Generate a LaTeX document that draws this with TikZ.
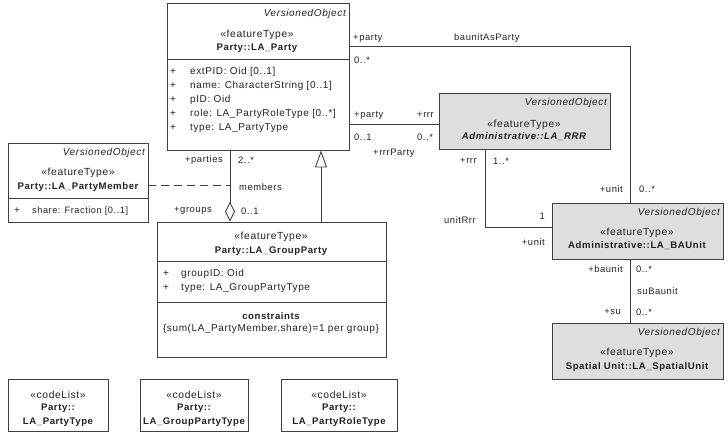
\documentclass[tikz,border=0pt]{standalone}
\usepackage{fontspec}
\setmainfont{Liberation Sans}[LetterSpace=6]
\usetikzlibrary{arrows.meta}
\definecolor{linec}{HTML}{404040}
\definecolor{boxgray}{HTML}{DEDEDE}
\definecolor{txtc}{HTML}{222222}
\tikzset{
  umlbox/.style={draw=linec, line width=0.9pt, rectangle, inner sep=0pt},
  gbox/.style={umlbox, fill=boxgray},
  sepline/.style={draw=linec, line width=0.9pt},
  conn/.style={draw=linec, line width=0.9pt},
  txt/.style={inner sep=0pt, text=txtc, font=\fontsize{10}{12}\selectfont},
  vo/.style={txt, anchor=east, font=\fontsize{10}{12}\selectfont\itshape},
  stereo/.style={txt, font=\fontsize{10.3}{12}\selectfont},
  cname/.style={txt, font=\fontsize{9.6}{12}\selectfont\bfseries},
  attr/.style={txt, anchor=west},
  lbl/.style={txt, font=\fontsize{9.4}{12}\selectfont},
  lw/.style={lbl, anchor=west},
  le/.style={lbl, anchor=east}
}
\begin{document}
\begin{tikzpicture}[x=1pt,y=-1pt]
\useasboundingbox (0,0) rectangle (728,436);

% ---------- boxes ----------
\node[umlbox, minimum width=182pt, minimum height=147pt] (party) at (258,76.5) {};
\node[umlbox, minimum width=140pt, minimum height=79pt] (member) at (78,182.5) {};
\node[umlbox, minimum width=229pt, minimum height=135pt] (grp) at (271.5,289.5) {};
\node[gbox, minimum width=171pt, minimum height=56pt] (rrr) at (524.5,121) {};
\node[gbox, minimum width=171pt, minimum height=56pt] (baunit) at (637.5,231) {};
\node[gbox, minimum width=171pt, minimum height=56pt] (spatial) at (637.5,351) {};
\node[umlbox, minimum width=100pt, minimum height=52pt] (cl1) at (58,405) {};
\node[umlbox, minimum width=108pt, minimum height=52pt] (cl2) at (194,405) {};
\node[umlbox, minimum width=116pt, minimum height=52pt] (cl3) at (339,405) {};

% separators
\draw[sepline] (party.north west) ++(0,57) -- ++(182,0);
\draw[sepline] (member.north west) ++(0,56) -- ++(140,0);
\draw[sepline] (grp.north west) ++(0,40) -- ++(229,0);
\draw[sepline] (grp.north west) ++(0,81) -- ++(229,0);

% ---------- LA_Party ----------
\node[vo] (pvo) at (346,14) {VersionedObject};
\node[stereo] (pst) at (257,35) {«featureType»};
\node[cname] (pnm) at (257,48) {Party::LA\_Party};
\node[attr] (pp1) at (170,72) {+};
\node[attr] (pa1) at (190,72) {extPID: Oid [0..1]};
\node[attr] (pp2) at (170,86) {+};
\node[attr] (pa2) at (190,86) {name: CharacterString [0..1]};
\node[attr] (pp3) at (170,100) {+};
\node[attr] (pa3) at (190,100) {pID: Oid};
\node[attr] (pp4) at (170,114) {+};
\node[attr] (pa4) at (190,114) {role: LA\_PartyRoleType [0..*]};
\node[attr] (pp5) at (170,128) {+};
\node[attr] (pa5) at (190,128) {type: LA\_PartyType};

% ---------- LA_PartyMember ----------
\node[vo] (mvo) at (145,153) {VersionedObject};
\node[stereo] (mst) at (78,173) {«featureType»};
\node[cname] (mnm) at (78,187) {Party::LA\_PartyMember};
\node[attr] (mp1) at (14,211) {+};
\node[attr, font=\fontsize{9.2}{12}\selectfont] (ma1) at (32,211) {share: Fraction [0..1]};

% ---------- LA_GroupParty ----------
\node[stereo] (gst) at (271,237) {«featureType»};
\node[cname] (gnm) at (271,251) {Party::LA\_GroupParty};
\node[attr] (gp1) at (163,274) {+};
\node[attr] (ga1) at (181,274) {groupID: Oid};
\node[attr] (gp2) at (163,288) {+};
\node[attr] (ga2) at (181,288) {type: LA\_GroupPartyType};
\node[cname] (gcn) at (271,316) {constraints};
\node[txt] (gcs) at (271,329) {\{sum(LA\_PartyMember.share)=1 per group\}};

% ---------- LA_RRR ----------
\node[vo] (rvo) at (607,103) {VersionedObject};
\node[stereo] (rst) at (524,125) {«featureType»};
\node[cname, font=\fontsize{9.6}{12}\selectfont\bfseries\itshape] (rnm) at (524,137) {Administrative::LA\_RRR};

% ---------- LA_BAUnit ----------
\node[vo] (bvo) at (720,213) {VersionedObject};
\node[stereo] (bst) at (637,233) {«featureType»};
\node[cname] (bnm) at (637,246) {Administrative::LA\_BAUnit};

% ---------- LA_SpatialUnit ----------
\node[vo] (svo) at (720,333) {VersionedObject};
\node[stereo] (sst) at (637,353) {«featureType»};
\node[cname] (snm) at (637,367) {Spatial Unit::LA\_SpatialUnit};

% ---------- code lists ----------
\node[stereo] (c1s) at (58,395) {«codeList»};
\node[cname] (c1a) at (58,408) {Party::};
\node[cname] (c1b) at (58,422) {LA\_PartyType};
\node[stereo] (c2s) at (194,395) {«codeList»};
\node[cname] (c2a) at (194,408) {Party::};
\node[cname] (c2b) at (194,422) {LA\_GroupPartyType};
\node[stereo] (c3s) at (339,395) {«codeList»};
\node[cname] (c3a) at (339,408) {Party::};
\node[cname] (c3b) at (339,422) {LA\_PartyRoleType};

% ---------- connectors ----------
\coordinate (k1) at (630,46);
\coordinate (k2) at (400,124);
\coordinate (k3) at (485,227);
\coordinate (k4) at (230,185);
\coordinate (k5) at (321,200);

\draw[conn] (party.east |- k1) -- (k1) -- (k1 |- baunit.north);
\draw[conn] (party.east |- k2) -- (rrr.west |- k2);
\draw[conn] (rrr.south -| k3) -- (k3) -- (baunit.west |- k3);
\draw[conn] (baunit.south -| k1) -- (spatial.north -| k1);
\draw[conn, -{Diamond[open, length=20pt, width=10pt, line width=0.9pt]}] (party.south -| k4) -- (grp.north -| k4);
\draw[conn, -{Triangle[open, length=17pt, width=12pt, line width=0.9pt]}] (grp.north -| k5) -- (party.south -| k5);
\draw[conn, dash pattern=on 8pt off 5pt] (member.east |- k4) -- (k4);

% ---------- labels ----------
\node[lw] (l1) at (353,38) {+party};
\node[lw] (l2) at (454,38) {baunitAsParty};
\node[lw] (l3) at (354,60) {0..*};
\node[lw] (l4) at (354,115) {+party};
\node[lw] (l5) at (417,115) {+rrr};
\node[lw] (l6) at (354,137) {0..1};
\node[lw] (l7) at (417,137) {0..*};
\node[lw] (l8) at (373,153) {+rrrParty};
\node[le] (l9) at (223,160) {+parties};
\node[lw] (l10) at (238,160) {2..*};
\node[lw] (l11) at (239,187) {members};
\node[le] (l12) at (212,211) {+groups};
\node[lw] (l13) at (241,211) {0..1};
\node[le] (l14) at (477,161) {+rrr};
\node[lw] (l15) at (493,161) {1..*};
\node[le] (l16) at (623,189) {+unit};
\node[lw] (l17) at (639,189) {0..*};
\node[lw] (l18) at (444,220) {unitRrr};
\node[le] (l19) at (545,216) {1};
\node[le] (l20) at (545,242) {+unit};
\node[le] (l21) at (623,269) {+baunit};
\node[lw] (l22) at (636,269) {0..*};
\node[lw] (l23) at (637,291) {suBaunit};
\node[le] (l24) at (621,312) {+su};
\node[lw] (l25) at (636,312) {0..*};
\end{tikzpicture}
\end{document}
